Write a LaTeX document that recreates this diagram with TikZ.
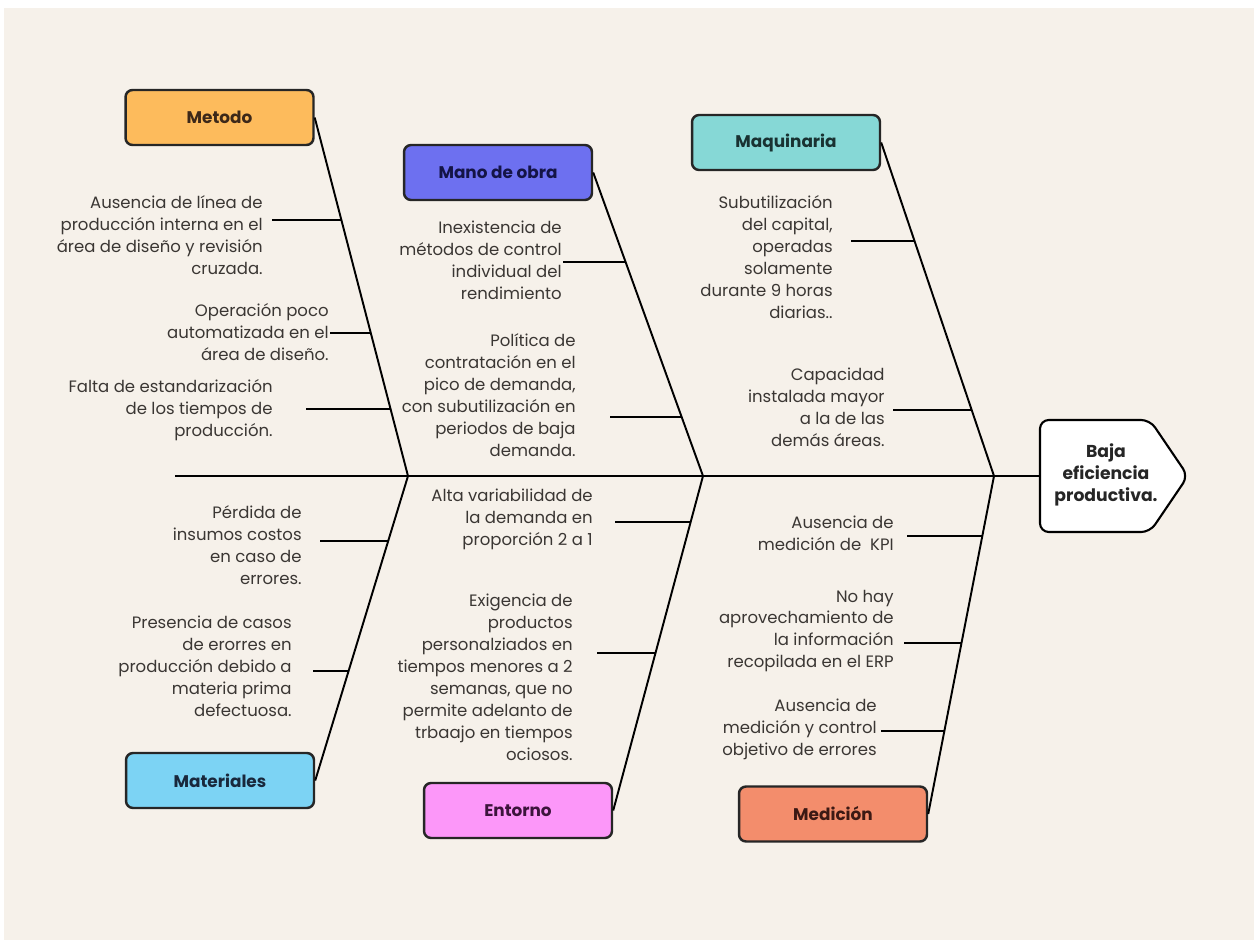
\documentclass[tikz,border=0pt]{standalone}
\usepackage{fontspec}
\setmainfont{Poppins}
\usepackage{tikz}

\definecolor{paper}{HTML}{F6F1EA}
\definecolor{ink}{HTML}{3A3633}
\definecolor{metodoc}{HTML}{FDBB5C}
\definecolor{manoc}{HTML}{6D70F0}
\definecolor{maquic}{HTML}{86D8D6}
\definecolor{materc}{HTML}{7CD3F4}
\definecolor{entorc}{HTML}{FC97F9}
\definecolor{medic}{HTML}{F38D6C}

\begin{document}
\begin{tikzpicture}[x=0.02cm, y=-0.02cm,
    catbox/.style={draw=black!85, line width=1.4pt, rounded corners=4pt,
      minimum width=3.76cm, minimum height=1.1cm,
      font=\bfseries\fontsize{9.6}{12}\selectfont},
    cause/.style={anchor=east, align=right, inner sep=0pt, text=ink,
      font=\fontsize{9.4}{12.5}\selectfont},
    bone/.style={line width=1.1pt}]
          \fill [white] (0, 0) rectangle (1254, 940);
          \fill [paper] (4, 8) rectangle (1254, 940);

          % Head
          \draw [fill=white, line width=1.2pt, rounded corners=5pt] (1040, 420) --
            (1150, 420) -- (1188, 476) -- (1150, 532) -- (1040, 532) -- cycle;
          \node [font=\bfseries\fontsize{9.8}{12.5}\selectfont, align=center, text=black!85]
            (efecto) at (1106, 475) {Baja\\eficiencia\\productiva.};
          \coordinate (cola) at (175, 476);
          \coordinate (cabeza) at (1040, 476);
          \coordinate (j1) at (408, 476);
          \coordinate (j2) at (703, 476);
          \coordinate (j3) at (994, 476);
          \draw [bone] (cola) -- (cabeza);

          % Categories
          \node [catbox, fill=metodoc, text={rgb,255:red,60;green,40;blue,25}] (metodo) at (219.5, 117.5) {Metodo};
          \node [catbox, fill=manoc, text={rgb,255:red,20;green,20;blue,70}] (mano) at (498, 172.5) {Mano de obra};
          \node [catbox, fill=maquic, text={rgb,255:red,25;green,50;blue,50}] (maquinaria) at (786, 142.5) {Maquinaria};
          \node [catbox, fill=materc, text={rgb,255:red,25;green,40;blue,60}] (materiales) at (220, 780.5) {Materiales};
          \node [catbox, fill=entorc, text={rgb,255:red,60;green,20;blue,60}] (entorno) at (518, 810.5) {Entorno};
          \node [catbox, fill=medic, text={rgb,255:red,60;green,25;blue,20}] (medicion) at (833, 814) {Medición};

          % Bones
          \draw [bone] (metodo.east) -- (j1) coordinate [pos=0.286] (m1)
            coordinate [pos=0.601] (m2) coordinate [pos=0.813] (m3);
          \draw [bone] (materiales.east) -- (j1) coordinate [pos=0.787] (a1)
            coordinate [pos=0.360] (a2);
          \draw [bone] (mano.east) -- (j2) coordinate [pos=0.295] (o1)
            coordinate [pos=0.806] (o2);
          \draw [bone] (entorno.east) -- (j2) coordinate [pos=0.862] (e1)
            coordinate [pos=0.471] (e2);
          \draw [bone] (maquinaria.east) -- (j3) coordinate [pos=0.295] (q1)
            coordinate [pos=0.802] (q2);
          \draw [bone] (medicion.east) -- (j3) coordinate [pos=0.822] (d1)
            coordinate [pos=0.506] (d2) coordinate [pos=0.246] (d3);

          % Ribs
          \draw [bone] (m1) -- ++(-69, 0) coordinate (m1s);
          \draw [bone] (m2) -- ++(-41, 0) coordinate (m2s);
          \draw [bone] (m3) -- ++(-85, 0) coordinate (m3s);
          \draw [bone] (a1) -- ++(-68, 0) coordinate (a1s);
          \draw [bone] (a2) -- ++(-36, 0) coordinate (a2s);
          \draw [bone] (o1) -- ++(-63, 0) coordinate (o1s);
          \draw [bone] (o2) -- ++(-72, 0) coordinate (o2s);
          \draw [bone] (e1) -- ++(-76, 0) coordinate (e1s);
          \draw [bone] (e2) -- ++(-59, 0) coordinate (e2s);
          \draw [bone] (q1) -- ++(-63, 0) coordinate (q1s);
          \draw [bone] (q2) -- ++(-79, 0) coordinate (q2s);
          \draw [bone] (d1) -- ++(-75, 0) coordinate (d1s);
          \draw [bone] (d2) -- ++(-58, 0) coordinate (d2s);
          \draw [bone] (d3) -- ++(-63, 0) coordinate (d3s);

          % Causes
          \node [cause] (tm1) at (263, 235) {Ausencia de línea de\\producción interna en el\\área de diseño y revisión\\cruzada.};
          \node [cause] (tm2) at (329, 332) {Operación poco\\automatizada en el\\área de diseño.};
          \node [cause] (tm3) at (273, 410) {Falta de estandarización\\de los tiempos de\\producción.};
          \node [cause] (ta1) at (302, 545) {Pérdida de\\insumos costos\\en caso de\\errores.};
          \node [cause] (ta2) at (292, 666) {Presencia de casos\\de erorres en\\producción debido a\\materia prima\\defectuosa.};
          \node [cause] (to1) at (562, 260) {Inexistencia de\\métodos de control\\individual del\\rendimiento};
          \node [cause] (to2) at (576, 395) {Política de\\contratación en el\\pico de demanda,\\con subutilización en\\periodos de baja\\demanda.};
          \node [cause] (te1) at (593, 519) {Alta variabilidad de\\la demanda en\\proporción 2 a 1};
          \node [cause] (te2) at (573, 677) {Exigencia de\\productos\\personalziados en\\tiempos menores a 2\\semanas, que no\\permite adelanto de\\trbaajo en tiempos\\ociosos.};
          \node [cause] (tq1) at (833, 257) {Subutilización\\del capital,\\operadas\\solamente\\durante 9 horas\\diarias..};
          \node [cause] (tq2) at (885, 407) {Capacidad\\instalada mayor\\a la de las\\demás áreas.};
          \node [cause] (td1) at (894, 533) {Ausencia de\\medición de\ \ KPI};
          \node [cause] (td2) at (894, 631) {No hay\\aprovechamiento de\\la información\\recopilada en el ERP};
          \node [cause] (td3) at (877, 729) {Ausencia de\\medición y control\\objetivo de errores};
        \end{tikzpicture}
\end{document}
